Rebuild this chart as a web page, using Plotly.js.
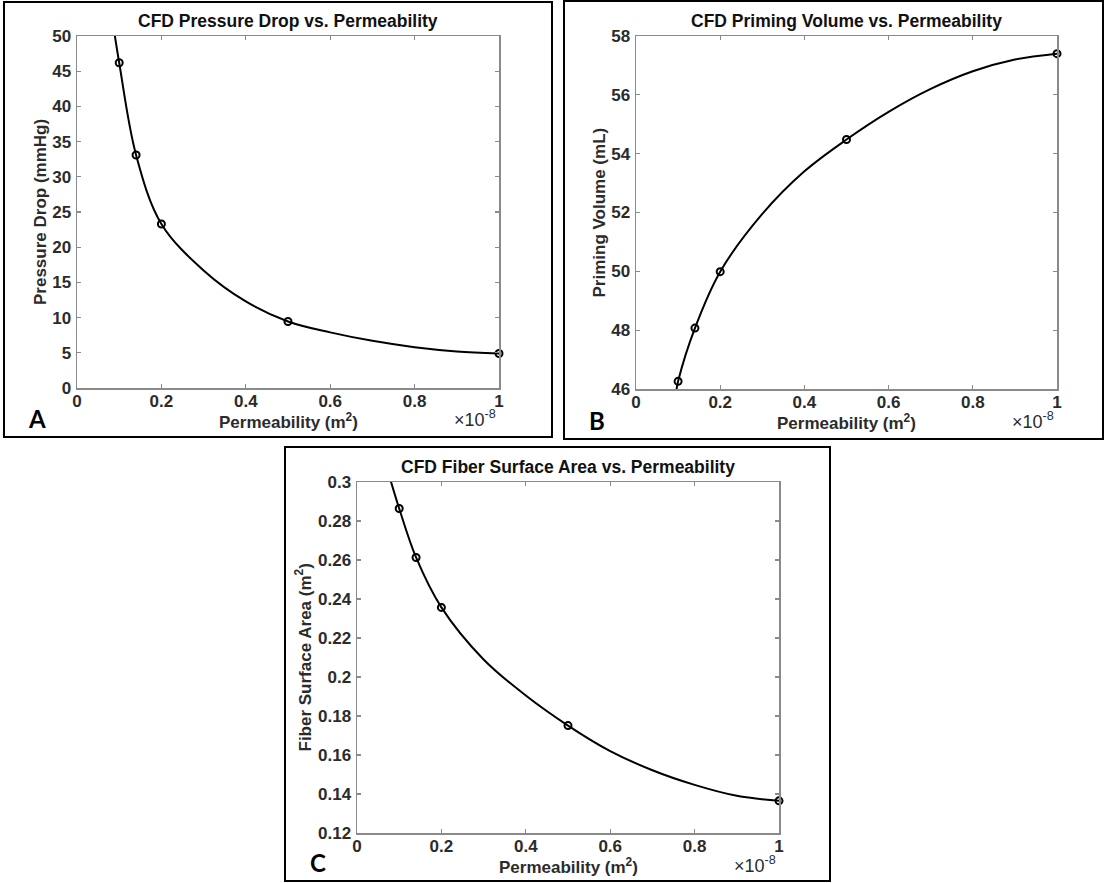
<!DOCTYPE html>
<html>
<head>
<meta charset="utf-8">
<script src="https://cdn.plot.ly/plotly-3.0.1.min.js"></script>
<style>
  html, body { margin: 0; padding: 0; background: #fff; }
  #chart { width: 1105px; height: 883px; }
</style>
</head>
<body>
<div id="chart"></div>
<script>
// ---- Data (permeability in units of 1e-8 m^2) ----
const perm = [0.1, 0.14, 0.2, 0.5, 1.0];
const pressureDrop = [46.2, 33.1, 23.3, 9.45, 4.9];      // mmHg
const primingVolume = [46.26, 48.07, 49.99, 54.48, 57.40]; // mL
const fiberArea = [0.2864, 0.2613, 0.2357, 0.1751, 0.1365]; // m^2

// Fitted (interpolated) curves
const fitPermA = [0.088, 0.1, 0.14, 0.2, 0.3, 0.4, 0.5, 0.6, 0.7, 0.8, 0.9, 1.0];
const fitPressure = [50.7, 46.2, 33.1, 23.3, 16.7, 12.3, 9.45, 7.9, 6.7, 5.8, 5.2, 4.9];
const fitPermB = [0.096, 0.1, 0.14, 0.2, 0.3, 0.4, 0.5, 0.6, 0.7, 0.8, 0.9, 1.0];
const fitVolume = [45.95, 46.26, 48.07, 49.99, 51.95, 53.4, 54.48, 55.42, 56.2, 56.8, 57.2, 57.40];
const fitPermC = [0.078, 0.1, 0.14, 0.2, 0.3, 0.4, 0.5, 0.6, 0.7, 0.8, 0.9, 1.0];
const fitArea = [0.302, 0.2864, 0.2613, 0.2357, 0.209, 0.1905, 0.1751, 0.162, 0.1522, 0.1447, 0.1391, 0.1365];

// Tick labels
const xTickVals = [0, 0.2, 0.4, 0.6, 0.8, 1];
const xTickText = ['0', '0.2', '0.4', '0.6', '0.8', '1'];
const yTickValsA = [0, 5, 10, 15, 20, 25, 30, 35, 40, 45, 50];
const yTickValsB = [46, 48, 50, 52, 54, 56, 58];
const yTickValsC = [0.12, 0.14, 0.16, 0.18, 0.2, 0.22, 0.24, 0.26, 0.28, 0.3];
const yTickTextC = ['0.12', '0.14', '0.16', '0.18', '0.2', '0.22', '0.24', '0.26', '0.28', '0.3'];

const titles = ['CFD Pressure Drop vs. Permeability', 'CFD Priming Volume vs. Permeability', 'CFD Fiber Surface Area vs. Permeability'];
const yLabels = ['Pressure Drop (mmHg)', 'Priming Volume (mL)', 'Fiber Surface Area (m<sup>2</sup>)'];
const xLabel = 'Permeability (m<sup>2</sup>)';
const panelLetters = ['A', 'B', 'C'];

// ---- Layout helpers ----
const W = 1105, H = 883;
const fx = p => p / W;
const fy = p => 1 - p / H;
const FONT = 'Liberation Sans, Arial, sans-serif';
const AX = '#8a8a8a';
const TXT = '#2b2b2b';

// plot areas in pixels: [left, right, top, bottom]
const areas = [[77, 499, 36, 388], [636, 1057, 36, 389], [357, 779, 482, 833]];
const borders = [[4, 552, 2, 437], [564, 1103, 1, 439], [285, 830, 447, 881]];
const yLabelX = [41, 599, 303];

function lineTrace(x, y, i) {
  return { x, y, type: 'scatter', mode: 'lines', line: { color: '#000', width: 2, shape: 'spline', smoothing: 1 },
    xaxis: 'x' + (i ? i + 1 : ''), yaxis: 'y' + (i ? i + 1 : ''), hoverinfo: 'skip', showlegend: false };
}
function markTrace(x, y, i) {
  return { x, y, type: 'scatter', mode: 'markers',
    marker: { symbol: 'circle-open', size: 7, color: '#000', line: { width: 2, color: '#000' } },
    xaxis: 'x' + (i ? i + 1 : ''), yaxis: 'y' + (i ? i + 1 : ''), showlegend: false, cliponaxis: false };
}

const data = [
  lineTrace(fitPermA, fitPressure, 0), markTrace(perm, pressureDrop, 0),
  lineTrace(fitPermB, fitVolume, 1), markTrace(perm, primingVolume, 1),
  lineTrace(fitPermC, fitArea, 2), markTrace(perm, fiberArea, 2)
];

function axisBase() {
  return {
    showline: true, mirror: 'ticks', linecolor: AX, linewidth: 1.5,
    ticks: 'inside', ticklen: 4, tickwidth: 1.2, tickcolor: AX,
    showgrid: false, zeroline: false, fixedrange: true,
    tickfont: { family: FONT, size: 17, color: TXT, weight: 700 }
  };
}

const layout = {
  width: W, height: H, margin: { l: 0, r: 0, t: 0, b: 0 },
  paper_bgcolor: '#fff', plot_bgcolor: '#fff', showlegend: false,
  shapes: [], annotations: []
};

const yRanges = [[0, 50], [46, 58], [0.12, 0.3]];
const yTicks = [[yTickValsA, yTickValsA.map(String)], [yTickValsB, yTickValsB.map(String)], [yTickValsC, yTickTextC]];

areas.forEach((a, i) => {
  const sfx = i ? String(i + 1) : '';
  const xa = Object.assign(axisBase(), {
    domain: [fx(a[0]), fx(a[1])], range: [0, 1], anchor: 'y' + sfx,
    tickvals: xTickVals, ticktext: xTickText, ticklabelstandoff: -3
  });
  const ya = Object.assign(axisBase(), {
    domain: [fy(a[3]), fy(a[2])], range: yRanges[i], anchor: 'x' + sfx,
    tickvals: yTicks[i][0], ticktext: yTicks[i][1], ticklabelstandoff: 1
  });
  layout['xaxis' + sfx] = xa;
  layout['yaxis' + sfx] = ya;

  const b = borders[i];
  layout.shapes.push({ type: 'rect', xref: 'paper', yref: 'paper', x0: fx(b[0]), x1: fx(b[1]), y0: fy(b[3]), y1: fy(b[2]),
    line: { color: '#000', width: 2 }, fillcolor: 'rgba(0,0,0,0)', layer: 'above' });

  const cx = (a[0] + a[1]) / 2;
  // title
  layout.annotations.push({ xref: 'paper', yref: 'paper', x: fx(cx), y: fy(a[2] - 15), text: titles[i], showarrow: false,
    xanchor: 'center', yanchor: 'middle', font: { family: FONT, size: 17.5, color: '#111', weight: 700 } });
  // x label
  layout.annotations.push({ xref: 'paper', yref: 'paper', x: fx(cx), y: fy(a[3] + 33), text: xLabel, showarrow: false,
    xanchor: 'center', yanchor: 'middle', font: { family: FONT, size: 17, color: TXT, weight: 700 } });
  // y label
  layout.annotations.push({ xref: 'paper', yref: 'paper', x: fx(yLabelX[i]), y: fy((a[2] + a[3]) / 2), text: yLabels[i], showarrow: false,
    textangle: -90, xanchor: 'center', yanchor: 'middle', font: { family: FONT, size: 17, color: TXT, weight: 700 } });
  // exponent
  layout.annotations.push({ xref: 'paper', yref: 'paper', x: fx(a[1] - 1), y: fy(a[3] + 31), text: '×10<sup>-8</sup>', showarrow: false,
    xanchor: 'right', yanchor: 'middle', font: { family: FONT, size: 18, color: TXT } });
  // panel letter
  layout.annotations.push({ xref: 'paper', yref: 'paper', x: fx(b[0] + 33), y: fy(b[3] - 19), text: panelLetters[i], showarrow: false,
    xanchor: 'center', yanchor: 'middle', font: { family: 'Lato, Open Sans, sans-serif', size: 24, color: '#000', weight: 700 } });
});

Plotly.newPlot('chart', data, layout, { displayModeBar: false, staticPlot: true });
</script>
</body>
</html>
